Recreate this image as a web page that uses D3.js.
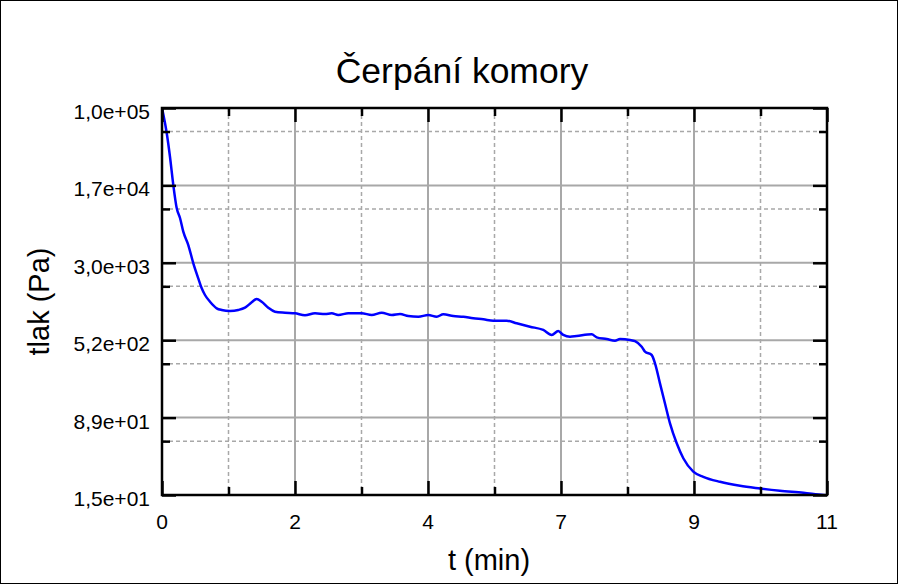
<!DOCTYPE html>
<html>
<head>
<meta charset="utf-8">
<script src="https://cdn.jsdelivr.net/npm/d3@7"></script>
<style>
  html, body { margin: 0; padding: 0; background: #fff; }
  svg { display: block; }
  text { font-family: "Liberation Sans", Arial, sans-serif; fill: #000; }
</style>
</head>
<body>
<svg id="chart" width="898" height="584"></svg>
<script>
// ---- data ----
const titleText = "Čerpání komory";
const xLabelText = "t (min)";
const yLabelText = "tlak (Pa)";

const timeMin = [0.0, 0.078, 0.132, 0.187, 0.243, 0.298, 0.352, 0.435, 0.518, 0.600,
  0.657, 0.711, 0.794, 0.905, 0.988, 1.125, 1.262, 1.373, 1.484, 1.566,
  1.649, 1.758, 1.869, 2.035, 2.200, 2.365, 2.531, 2.696, 2.807, 2.916,
  3.082, 3.303, 3.469, 3.634, 3.800, 3.937, 4.074, 4.240, 4.405, 4.544,
  4.653, 4.818, 4.984, 5.149, 5.315, 5.480, 5.702, 5.867, 6.087, 6.307,
  6.446, 6.555, 6.638, 6.749, 6.860, 7.108, 7.190, 7.356, 7.493, 7.576,
  7.741, 7.824, 7.935, 7.989, 8.100, 8.155, 8.237, 8.320, 8.403, 8.514,
  8.623, 8.788, 8.954, 9.230, 9.561, 9.892, 10.22, 10.61, 10.94, 11.0];
const pressurePa = [100000, 56750, 33100, 17440, 10350, 8250, 6048, 4472, 2953, 2101,
  1675, 1439, 1236, 1064, 1024, 1001, 1024, 1079, 1219, 1315,
  1236, 1079, 985, 963, 950, 908, 950, 935, 950, 914,
  950, 950, 914, 963, 914, 935, 893, 879, 914, 879,
  929, 893, 879, 848, 829, 803, 803, 757, 701, 651,
  581, 636, 581, 559, 568, 590, 551, 530, 510, 530,
  519, 505, 446, 398, 369, 305, 194, 123, 78.3, 49.8,
  35.5, 26.2, 23.3, 20.8, 19.0, 17.9, 17.0, 16.2, 15.4, 15.3];

const xDomain = [0, 11];
const xTickValues = [0, 2.2, 4.4, 6.6, 8.8, 11];
const xTickLabels = ["0", "2", "4", "7", "9", "11"];
const yDomain = [15.42, 100000];
const yTickValues = [100000, 17288, 2988, 516.2, 89.2, 15.42];
const yTickLabels = ["1,0e+05", "1,7e+04", "3,0e+03", "5,2e+02", "8,9e+01", "1,5e+01"];

// ---- layout ----
const W = 898, H = 584;
const plot = { left: 162, right: 827, top: 108, bottom: 495 };

const svg = d3.select("#chart");

const x = d3.scaleLinear().domain(xDomain).range([plot.left, plot.right]);
const y = d3.scaleLog().domain(yDomain).range([plot.bottom, plot.top]);

// minor positions: linear midpoints between consecutive major ticks
const xMinor = d3.pairs(xTickValues).map(([a, b]) => (a + b) / 2);
const yMinor = d3.pairs(yTickValues).map(([a, b]) => (a + b) / 2);

// outer border
svg.append("rect").attr("x", 0.5).attr("y", 0.5).attr("width", W - 1).attr("height", H - 1)
  .attr("fill", "#fff").attr("stroke", "#000").attr("stroke-width", 1);

const grid = svg.append("g");
// minor dashed grid
grid.selectAll(".xminor").data(xMinor).join("line")
  .attr("x1", d => x(d)).attr("x2", d => x(d))
  .attr("y1", plot.top).attr("y2", plot.bottom)
  .attr("stroke", "#a8a8a8").attr("stroke-width", 1.5).attr("stroke-dasharray", "4,3");
grid.selectAll(".yminor").data(yMinor).join("line")
  .attr("y1", d => y(d)).attr("y2", d => y(d))
  .attr("x1", plot.left).attr("x2", plot.right)
  .attr("stroke", "#a8a8a8").attr("stroke-width", 1.5).attr("stroke-dasharray", "4,3");
// major solid grid
grid.selectAll(".xmajor").data(xTickValues.slice(1, -1)).join("line")
  .attr("x1", d => x(d)).attr("x2", d => x(d))
  .attr("y1", plot.top).attr("y2", plot.bottom)
  .attr("stroke", "#a8a8a8").attr("stroke-width", 2);
grid.selectAll(".ymajor").data(yTickValues.slice(1, -1)).join("line")
  .attr("y1", d => y(d)).attr("y2", d => y(d))
  .attr("x1", plot.left).attr("x2", plot.right)
  .attr("stroke", "#a8a8a8").attr("stroke-width", 2);

// clip
svg.append("clipPath").attr("id", "clip").append("rect")
  .attr("x", plot.left).attr("y", plot.top)
  .attr("width", plot.right - plot.left).attr("height", plot.bottom - plot.top);

const series = timeMin.map((t, i) => ({ t, p: pressurePa[i] }));
const line = d3.line().x(d => x(d.t)).y(d => y(d.p)).curve(d3.curveMonotoneX);
svg.append("path").datum(series)
  .attr("clip-path", "url(#clip)")
  .attr("d", line)
  .attr("fill", "none").attr("stroke", "#0000ff").attr("stroke-width", 2.5)
  .attr("stroke-linejoin", "round");

// axes using d3 axis generators (inward ticks on all four sides)
const majorLen = 14, minorLen = 8;
function styleAxis(g) {
  g.select(".domain").remove();
  g.selectAll(".tick line").attr("stroke", "#000").attr("stroke-width", 2.5);
}
// left
svg.append("g").attr("transform", `translate(${plot.left},0)`)
  .call(d3.axisRight(y).tickValues(yTickValues).tickSize(majorLen).tickFormat(""))
  .call(styleAxis);
svg.append("g").attr("transform", `translate(${plot.left},0)`)
  .call(d3.axisRight(y).tickValues(yMinor).tickSize(minorLen).tickFormat(""))
  .call(styleAxis);
// right
svg.append("g").attr("transform", `translate(${plot.right},0)`)
  .call(d3.axisLeft(y).tickValues(yTickValues).tickSize(majorLen).tickFormat(""))
  .call(styleAxis);
svg.append("g").attr("transform", `translate(${plot.right},0)`)
  .call(d3.axisLeft(y).tickValues(yMinor).tickSize(minorLen).tickFormat(""))
  .call(styleAxis);
// bottom
svg.append("g").attr("transform", `translate(0,${plot.bottom})`)
  .call(d3.axisTop(x).tickValues(xTickValues).tickSize(majorLen).tickFormat(""))
  .call(styleAxis);
svg.append("g").attr("transform", `translate(0,${plot.bottom})`)
  .call(d3.axisTop(x).tickValues(xMinor).tickSize(minorLen).tickFormat(""))
  .call(styleAxis);
// top
svg.append("g").attr("transform", `translate(0,${plot.top})`)
  .call(d3.axisBottom(x).tickValues(xTickValues).tickSize(majorLen).tickFormat(""))
  .call(styleAxis);
svg.append("g").attr("transform", `translate(0,${plot.top})`)
  .call(d3.axisBottom(x).tickValues(xMinor).tickSize(minorLen).tickFormat(""))
  .call(styleAxis);

// frame
svg.append("rect").attr("x", plot.left).attr("y", plot.top)
  .attr("width", plot.right - plot.left).attr("height", plot.bottom - plot.top)
  .attr("fill", "none").attr("stroke", "#000").attr("stroke-width", 2.5);

// tick labels
svg.append("g").selectAll("text").data(yTickValues).join("text")
  .attr("x", plot.left - 12).attr("y", d => y(d) + 11)
  .attr("text-anchor", "end").attr("font-size", 21)
  .text((d, i) => yTickLabels[i]);
svg.append("g").selectAll("text").data(xTickValues).join("text")
  .attr("x", d => x(d)).attr("y", plot.bottom + 34)
  .attr("text-anchor", "middle").attr("font-size", 21)
  .text((d, i) => xTickLabels[i]);

// title and axis labels
svg.append("text").attr("x", 462).attr("y", 83)
  .attr("text-anchor", "middle").attr("font-size", 35.5).text(titleText);
svg.append("text").attr("x", 489).attr("y", 570)
  .attr("text-anchor", "middle").attr("font-size", 29).text(xLabelText);
svg.append("text")
  .attr("transform", `translate(49,${(plot.top + plot.bottom) / 2}) rotate(-90)`)
  .attr("text-anchor", "middle").attr("font-size", 29).text(yLabelText);
</script>
</body>
</html>
